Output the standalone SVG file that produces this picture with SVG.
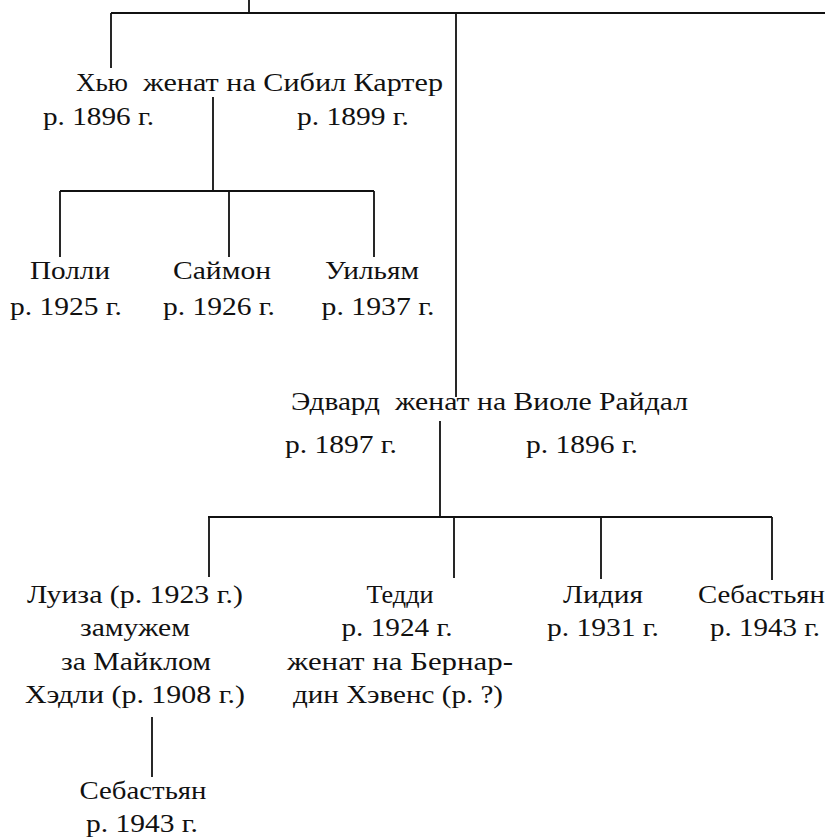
<svg xmlns="http://www.w3.org/2000/svg" width="825" height="837" viewBox="0 0 825 837">
<style>
text{font-family:"Liberation Serif","Times New Roman",serif;font-size:26px;fill:#111}
.c{text-anchor:middle}
.ln{stroke:#111;stroke-width:1.8;fill:none}
</style>
<rect width="825" height="837" fill="#fff"/>
<g id="connectors" class="ln">
<path d="M249 0V13M111 13H825M111 13V68M456 13V397"/>
<path d="M213 97V191M60 191H374M60 191V257M229 191V257M374 191V257"/>
<path d="M440 421V517M208 517H772M209 517V577M454 517V578M601 517V579M772 517V580"/>
<path d="M152 717V777"/>
</g>
<g id="hugh"><text x="76" y="91" textLength="52" lengthAdjust="spacingAndGlyphs">Хью</text><text x="143" y="91" textLength="300" lengthAdjust="spacingAndGlyphs">женат на Сибил Картер</text><text x="43" y="125" textLength="111" lengthAdjust="spacingAndGlyphs">р. 1896 г.</text><text x="297" y="125" textLength="112" lengthAdjust="spacingAndGlyphs">р. 1899 г.</text></g>
<g id="polly"><text class="c" x="70" y="279" textLength="80" lengthAdjust="spacingAndGlyphs">Полли</text><text class="c" x="66" y="315" textLength="112" lengthAdjust="spacingAndGlyphs">р. 1925 г.</text></g>
<g id="simon"><text class="c" x="222" y="279" textLength="98" lengthAdjust="spacingAndGlyphs">Саймон</text><text class="c" x="219" y="315" textLength="112" lengthAdjust="spacingAndGlyphs">р. 1926 г.</text></g>
<g id="william"><text class="c" x="372" y="279" textLength="94" lengthAdjust="spacingAndGlyphs">Уильям</text><text class="c" x="378" y="315" textLength="113" lengthAdjust="spacingAndGlyphs">р. 1937 г.</text></g>
<g id="edward"><text x="291" y="410" textLength="89" lengthAdjust="spacingAndGlyphs">Эдвард</text><text x="395" y="410" textLength="293" lengthAdjust="spacingAndGlyphs">женат на Виоле Райдал</text><text x="285" y="453" textLength="112" lengthAdjust="spacingAndGlyphs">р. 1897 г.</text><text x="526" y="453" textLength="112" lengthAdjust="spacingAndGlyphs">р. 1896 г.</text></g>
<g id="louisa"><text class="c" x="135" y="603" textLength="216" lengthAdjust="spacingAndGlyphs">Луиза (р. 1923 г.)</text><text class="c" x="135" y="636" textLength="110" lengthAdjust="spacingAndGlyphs">замужем</text><text class="c" x="136" y="670" textLength="150" lengthAdjust="spacingAndGlyphs">за Майклом</text><text class="c" x="135" y="703" textLength="220" lengthAdjust="spacingAndGlyphs">Хэдли (р. 1908 г.)</text></g>
<g id="teddy"><text class="c" x="400" y="603" textLength="67" lengthAdjust="spacingAndGlyphs">Тедди</text><text class="c" x="397" y="636" textLength="111" lengthAdjust="spacingAndGlyphs">р. 1924 г.</text><text class="c" x="400" y="670" textLength="226" lengthAdjust="spacingAndGlyphs">женат на Бернар-</text><text class="c" x="398" y="703" textLength="210" lengthAdjust="spacingAndGlyphs">дин Хэвенс (р. ?)</text></g>
<g id="lydia"><text class="c" x="603" y="603" textLength="80" lengthAdjust="spacingAndGlyphs">Лидия</text><text class="c" x="603" y="636" textLength="112" lengthAdjust="spacingAndGlyphs">р. 1931 г.</text></g>
<g id="sebastian"><text x="698" y="603" textLength="127" lengthAdjust="spacingAndGlyphs">Себастьян</text><text class="c" x="765" y="636" textLength="110" lengthAdjust="spacingAndGlyphs">р. 1943 г.</text></g>
<g id="sebastian2"><text class="c" x="143" y="799" textLength="127" lengthAdjust="spacingAndGlyphs">Себастьян</text><text class="c" x="142" y="832" textLength="112" lengthAdjust="spacingAndGlyphs">р. 1943 г.</text></g>
</svg>
